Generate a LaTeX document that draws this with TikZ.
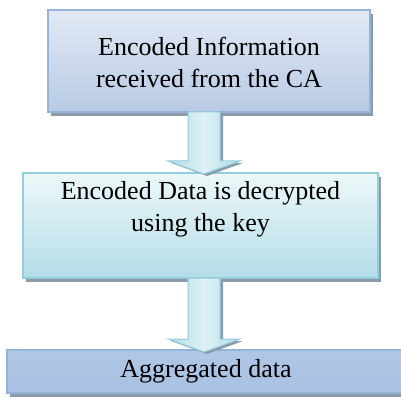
\documentclass[tikz,border=0pt]{standalone}
\usepackage{fontspec}
\setmainfont{Liberation Serif}
\usetikzlibrary{calc,shadows}
\definecolor{boxAline}{RGB}{149,179,215}
\definecolor{boxAtop}{RGB}{226,233,245}
\definecolor{boxAbot}{RGB}{184,202,228}
\definecolor{boxBline}{RGB}{146,205,220}
\definecolor{boxBtop}{RGB}{236,247,249}
\definecolor{boxBbot}{RGB}{180,221,231}
\definecolor{boxCtop}{RGB}{176,199,229}
\definecolor{boxCmid}{RGB}{222,231,243}
\definecolor{boxCbot}{RGB}{168,192,226}
\definecolor{arrfill}{RGB}{222,241,246}
\definecolor{arredge}{RGB}{176,220,231}
\definecolor{shadowgray}{RGB}{140,154,170}
\newcommand{\flowarrowpath}[2]{%
  ($(#1)+(-16,0)$) -- ($(#1)+(16,0)$) -- ($(#2)+(16,-13)$)
  -- ($(#2)+(36,-13)$) -- (#2) -- ($(#2)+(-36,-13)$)
  -- ($(#2)+(-16,-13)$) -- cycle}
\begin{document}
\begin{tikzpicture}[x=1pt,y=-1pt,
  boxbase/.style={rectangle, inner sep=0pt, line width=1.5pt,
    drop shadow={shadow xshift=3pt, shadow yshift=-4pt, fill=shadowgray, opacity=1}},
  boxA/.style={boxbase, draw=boxAline, top color=boxAtop, bottom color=boxAbot},
  boxB/.style={boxbase, draw=boxBline, top color=boxBtop, bottom color=boxBbot},
  boxC/.style={boxbase, draw=boxAline, top color=boxCtop, middle color=boxCmid, bottom color=boxCbot},
  lbl/.style={font=\fontsize{26}{32}\selectfont, align=center, inner sep=0pt},
  flowarrow/.style={draw=boxBline, line width=1pt, left color=arredge, right color=arredge, middle color=arrfill},
  arrshadow/.style={fill=shadowgray}
]
\useasboundingbox (0,0) rectangle (401,398);

\node[boxA, minimum width=322pt, minimum height=102pt] (b1) at (209,61) {};
\node[lbl] (t1) at (209,62) {Encoded Information\\received from the CA};

\node[boxB, minimum width=355pt, minimum height=105pt] (b2) at (200.5,225.5) {};
\node[lbl, anchor=north] (t2) at (200.5,181) {Encoded Data is decrypted\\using the key};

\node[boxC, minimum width=402pt, minimum height=43pt] (b3) at (208,371.5) {};
\node[lbl] (t3) at (206,371) {Aggregated data};

\coordinate (a1s) at (204,112);
\coordinate (a1e) at (204,174);
\coordinate (a2s) at (204,278);
\coordinate (a2e) at (204,352);
\coordinate (a1ss) at (207,113);
\coordinate (a1es) at (207,176);
\coordinate (a2ss) at (207,279);
\coordinate (a2es) at (207,354);

\fill[arrshadow] \flowarrowpath{a1ss}{a1es};
\path[flowarrow] \flowarrowpath{a1s}{a1e};
\fill[arrshadow] \flowarrowpath{a2ss}{a2es};
\path[flowarrow] \flowarrowpath{a2s}{a2e};
\end{tikzpicture}
\end{document}
